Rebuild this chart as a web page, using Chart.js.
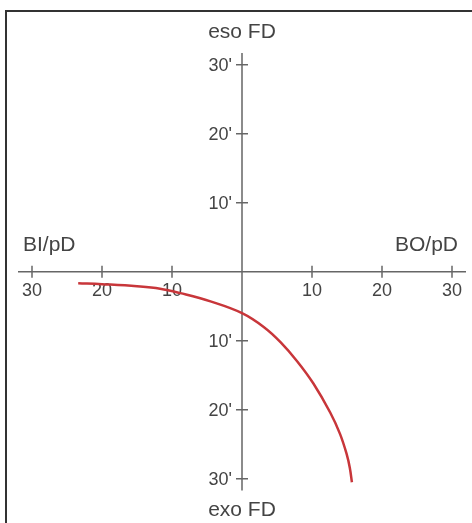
<!DOCTYPE html>
<html>
<head>
<meta charset="utf-8">
<script src="https://cdn.jsdelivr.net/npm/chart.js@4.4.3/dist/chart.umd.min.js"></script>
<style>
  html, body { margin: 0; padding: 0; background: #fff; }
  #wrap { position: relative; width: 472px; height: 523px; overflow: hidden; }
  #frame { position: absolute; left: 5px; top: 10px; width: 480px; height: 530px;
           border-left: 2px solid #333; border-top: 2px solid #333; box-sizing: border-box; }
  canvas { position: absolute; left: 0; top: 0; }
</style>
</head>
<body>
<div id="wrap">
  <div id="frame"></div>
  <canvas id="c" width="472" height="523"></canvas>
</div>
<script>
  // curve (x: BI negative / BO positive, y: eso positive / exo negative)
  var curveX = [-23.4, -20, -15, -11.7, -8.8, -4.5, 0, 3.1, 5.5, 7.9, 10.2, 12.6, 14.0, 15.0, 15.4, 15.7];
  var curveY = [-1.65, -1.8, -2.1, -2.45, -3.1, -4.3, -6.0, -8.0, -10.2, -13.0, -16.2, -20.4, -23.5, -26.6, -28.4, -30.5];

  var xTicks = [-30, -20, -10, 10, 20, 30];
  var xTickLabels = ['30', '20', '10', '10', '20', '30'];
  var yTicks = [30, 20, 10, -10, -20, -30];
  var yTickLabels = ["30'", "20'", "10'", "10'", "20'", "30'"];

  var titleTop = 'eso FD';
  var titleBottom = 'exo FD';
  var titleLeft = 'BI/pD';
  var titleRight = 'BO/pD';

  var FONT = '"Liberation Sans", Arial, Helvetica, sans-serif';
  var TEXT = '#444';
  var AXIS = '#666';

  // draws the crossed axes, "+" ticks and labels from the chart's own scales
  var crossAxes = {
    id: 'crossAxes',
    beforeDatasetsDraw: function (chart) {
      var ctx = chart.ctx;
      var xs = chart.scales.x, ys = chart.scales.y;
      var a = chart.chartArea;
      var x0 = xs.getPixelForValue(0), y0 = ys.getPixelForValue(0);
      ctx.save();
      ctx.strokeStyle = AXIS;
      ctx.lineWidth = 1.5;
      ctx.beginPath();
      ctx.moveTo(a.left, y0); ctx.lineTo(a.right, y0);
      ctx.moveTo(x0, a.top); ctx.lineTo(x0, a.bottom);
      ctx.stroke();

      ctx.fillStyle = TEXT;
      ctx.font = '18px ' + FONT;
      ctx.textAlign = 'center';
      ctx.textBaseline = 'middle';
      xTicks.forEach(function (v, i) {
        var px = xs.getPixelForValue(v);
        ctx.beginPath();
        ctx.moveTo(px, y0 - 6); ctx.lineTo(px, y0 + 6);
        ctx.stroke();
        ctx.fillText(xTickLabels[i], px, y0 + 19);
      });
      ctx.textAlign = 'right';
      yTicks.forEach(function (v, i) {
        var py = ys.getPixelForValue(v);
        ctx.beginPath();
        ctx.moveTo(x0 - 6, py); ctx.lineTo(x0 + 6, py);
        ctx.stroke();
        ctx.fillText(yTickLabels[i], x0 - 10, py + 1);
      });

      ctx.font = '21px ' + FONT;
      ctx.textAlign = 'center';
      ctx.fillText(titleTop, x0, 32);
      ctx.fillText(titleBottom, x0, 510);
      ctx.textAlign = 'left';
      ctx.fillText(titleLeft, 23, 245);
      ctx.textAlign = 'right';
      ctx.fillText(titleRight, 458, 245);
      ctx.restore();
    }
  };

  new Chart(document.getElementById('c'), {
    type: 'scatter',
    data: {
      datasets: [{
        data: curveX.map(function (x, i) { return { x: x, y: curveY[i] }; }),
        showLine: true,
        borderColor: '#c8363a',
        borderWidth: 2.5,
        pointRadius: 0,
        tension: 0.4,
        fill: false
      }]
    },
    options: {
      responsive: false,
      animation: false,
      devicePixelRatio: 1,
      layout: { padding: { left: 18, right: 6, top: 53, bottom: 32.5 } },
      plugins: { legend: { display: false }, tooltip: { enabled: false } },
      scales: {
        x: { type: 'linear', min: -32, max: 32, display: false },
        y: { type: 'linear', min: -31.7, max: 31.7, display: false }
      }
    },
    plugins: [crossAxes]
  });
</script>
</body>
</html>
